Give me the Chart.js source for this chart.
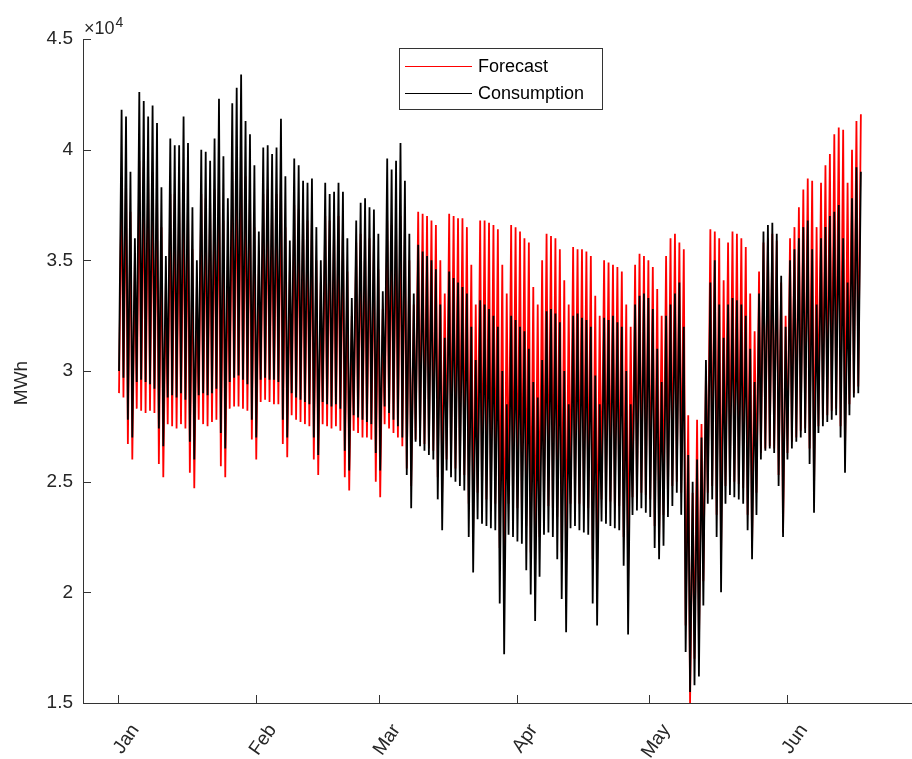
<!DOCTYPE html>
<html>
<head>
<meta charset="utf-8">
<script src="https://cdn.jsdelivr.net/npm/chart.js@4.4.1/dist/chart.umd.min.js"></script>
<style>
html,body{margin:0;padding:0;background:#ffffff;}
#wrap{width:912px;height:759px;position:relative;}
</style>
</head>
<body>
<div id="wrap"><canvas id="c" width="912" height="759"></canvas></div>
<script>
// ---- tick labels ----
const monthLabels = ['Jan', 'Feb', 'Mar', 'Apr', 'May', 'Jun'];
const monthStartDays = [0, 31, 59, 90, 120, 151];          // day index (day 0 = 1 Jan)
const yTickValues = [15000, 20000, 25000, 30000, 35000, 40000, 45000];
const seriesNames = ['Forecast', 'Consumption'];

// ---- daily values (MWh), one entry per day from 1 Jan ----
const consMax = [
  41800, 41500, 39000, 36000,
  42600, 42200, 41500, 42000, 41200, 38300, 35200,
  40500, 40200, 40200, 41500, 40300, 37400, 35000,
  40000, 39900, 39500, 40500, 42300, 39700, 37800,
  42100, 42800, 43400, 41300, 40700, 39300, 36300,
  40100, 40200, 39800, 40100, 41400, 38800, 35900,
  39600, 39300, 38600, 38500, 38700, 36500, 35000,
  38500, 38000, 38100, 38500, 38100, 36000, 33300,
  36800, 37600, 37800, 37400, 37300, 36200, 33600,
  39600, 39100, 39500, 40300, 38600, 36200, 33500,
  35700, 35400, 35200, 35000, 34600, 33000, 31500,
  34500, 34200, 34000, 33800, 33500, 32000, 30500,
  33200, 33000, 32800, 32500, 32000, 30000, 28500,
  32500, 32300, 32000, 31800, 31000, 29500, 28800,
  30500, 32700, 32800, 32600, 32200, 30000, 28500,
  32500, 32600, 32400, 32300, 32000, 29800, 28500,
  32400, 32300, 32500, 32200, 32000, 30000, 28500,
  33000, 33400, 33500, 33300, 32800, 31000, 29500,
  32500, 33000, 33500, 34000, 32000, 26200, 25000,
  26000, 27000, 30500, 34000, 35000, 33000, 31500,
  33000, 33300, 33200, 33000, 32500, 31000, 29500,
  33500, 36300, 36600, 36700, 36200, 34300, 32000,
  35000, 35500, 36000, 36500, 36800, 35500, 33000,
  36000, 36500, 37000, 37200, 37500, 36000, 34000,
  37800, 39200, 39000
];
const consMin = [
  30000, 29700, 27800, 27000,
  29500, 29600, 29500, 29400, 29200, 27400, 26600,
  28800, 28900, 28800, 29000, 28700, 26800, 26000,
  28900, 29000, 28900, 29000, 29200, 27200, 26500,
  29500, 29700, 29800, 29600, 29400, 27800, 27000,
  29600, 29700, 29600, 29600, 29500, 27800, 27000,
  29000, 28800, 28700, 28600, 28500, 27000, 26200,
  28600, 28500, 28400, 28500, 28300, 26400, 25500,
  28000, 27900, 27800, 27700, 27600, 26300, 25500,
  28400, 28100, 27800, 27500, 27000, 25300, 23800,
  26800, 26600, 26400, 26200, 26000, 24200, 22800,
  25500, 25200, 25000, 24800, 24600, 22500, 20900,
  23300, 23100, 23000, 22900, 22800, 19500, 17200,
  22600, 22500, 22300, 22200, 21000, 19900, 18700,
  20700, 22600, 22700, 22500, 21500, 19700, 18200,
  22900, 23000, 22800, 22700, 22600, 19500, 18500,
  23200, 23100, 23000, 22900, 22800, 21200, 18100,
  23500, 23700, 23800, 23600, 23400, 22000, 21500,
  22100, 23400, 23900, 24500, 23500, 17300, 15500,
  15800, 16200, 19400, 24000, 24200, 22500, 20000,
  24000, 24400, 24300, 24200, 24000, 22800, 21500,
  23500, 26000, 26400, 26500, 26300, 24800, 22500,
  26000, 26500, 26800, 27000, 27200, 25800, 23600,
  27200, 27500, 27700, 27800, 28000, 27000, 25400,
  28000, 28800, 29000
];
const foreMax = [
  38800, 39000, 37200, 35000,
  39500, 39200, 38800, 39000, 38300, 36500, 34000,
  38000, 38000, 37800, 38500, 37700, 35500, 33800,
  38000, 37800, 37600, 38200, 39000, 36800, 35200,
  39000, 39500, 40000, 38800, 38200, 36500, 34800,
  38000, 38200, 37800, 38000, 38800, 36500, 34500,
  37500, 37300, 37000, 36800, 37000, 35000, 34000,
  37000, 36800, 36800, 37000, 36600, 34500, 32500,
  35800, 36200, 36300, 36000, 35800, 34600, 32800,
  36800, 36600, 36800, 37000, 36500, 35000, 33000,
  37200, 37100, 37000, 36800, 36600, 35000, 33500,
  37100, 37000, 36900, 36900, 36500, 34800, 33000,
  36800, 36800, 36700, 36600, 36400, 34800, 33500,
  36600, 36500, 36300, 36000, 35800, 33800, 33000,
  35000, 36200, 36100, 36000, 35500, 34100, 33000,
  35600, 35500, 35500, 35400, 35200, 33400, 32500,
  35000, 34900, 34800, 34700, 34500, 33000, 32000,
  34800, 35300, 35200, 35000, 34700, 33700, 32500,
  35200, 36000, 36200, 35800, 35500, 28000, 24500,
  27800, 27600, 30000, 36400, 36300, 36000, 34100,
  35800, 36300, 36200, 36000, 35600, 33500, 31800,
  34500, 35800, 36000, 36200, 35900, 34000, 32500,
  36000, 36500, 37400, 38200, 38700, 38600, 36500,
  38500, 39300, 39800, 40700, 41000, 40900, 38500,
  40000, 41300, 41600
];
const foreMin = [
  29000, 28800, 26700, 26000,
  28300, 28200, 28100, 28200, 28100, 25800, 25200,
  27600, 27500, 27400, 27600, 27400, 25400, 24700,
  27800, 27600, 27500, 27700, 27800, 25700, 25200,
  28300, 28400, 28400, 28300, 28200, 26900, 26000,
  28600, 28700, 28600, 28500, 28500, 26700, 26100,
  28000, 27800, 27700, 27600, 27500, 26000, 25300,
  27600, 27500, 27400, 27500, 27300, 25200, 24600,
  27300, 27200, 27000, 27000, 26900, 25000, 24300,
  27600, 27400, 27200, 27000, 26600, 25600, 24800,
  26900, 26800, 26700, 26500, 26400, 25200, 24500,
  26000, 25800, 25600, 25500, 25300, 24000, 22800,
  24500, 24300, 24200, 24100, 24000, 22000, 20500,
  24000, 23900, 23800, 23700, 23000, 21800, 21200,
  22500, 23800, 23900, 23800, 23400, 21800, 20800,
  24000, 24100, 24000, 23900, 23800, 21500, 20800,
  24200, 24100, 24100, 24000, 23900, 22500, 20500,
  24300, 24500, 24500, 24400, 24200, 23000, 22300,
  23500, 24300, 24800, 25000, 24500, 18500, 15000,
  17000, 17500, 20500, 24500, 24800, 23500, 21500,
  24800, 25000, 25000, 24900, 24700, 23500, 22000,
  24500, 26300, 26500, 26600, 26500, 25300, 22700,
  26300, 26800, 27000, 27300, 27400, 26500, 24500,
  27500, 27800, 28000, 28200, 28300, 27500, 26200,
  28500, 29000, 29300
];

// hour of day of the nightly low and the evening high
const troughHour = 4;
const peakHour = 18;

function dailyCurve(mins, maxs) {
  const pts = [];
  for (let d = 0; d < mins.length; d++) {
    pts.push({ x: d + troughHour / 24, y: mins[d] });
    pts.push({ x: d + peakHour / 24, y: maxs[d] });
  }
  return pts;
}

const FONT = '"Liberation Sans", Arial, Helvetica, sans-serif';
const AXIS = '#333333';

const decorPlugin = {
  id: 'decor',
  afterDraw(chart) {
    const ctx = chart.ctx;
    const xs = chart.scales.x, ys = chart.scales.y;
    const area = chart.chartArea;
    ctx.save();
    // inside tick marks
    ctx.strokeStyle = AXIS;
    ctx.lineWidth = 1;
    ctx.beginPath();
    yTickValues.forEach(v => {
      const py = Math.round(ys.getPixelForValue(v)) + 0.5;
      ctx.moveTo(area.left, py); ctx.lineTo(area.left + 8, py);
    });
    monthStartDays.forEach(v => {
      const px = Math.round(xs.getPixelForValue(v)) + 0.5;
      ctx.moveTo(px, area.bottom); ctx.lineTo(px, area.bottom - 8);
    });
    ctx.stroke();

    // exponent label
    ctx.fillStyle = '#262626';
    ctx.textBaseline = 'alphabetic';
    ctx.textAlign = 'left';
    ctx.font = '18px ' + FONT;
    ctx.fillText('\u00d710', area.left + 1, 34);
    const w = ctx.measureText('\u00d710').width;
    ctx.font = '14px ' + FONT;
    ctx.fillText('4', area.left + 2 + w, 27);

    // y axis title
    ctx.save();
    ctx.translate(22, 383);
    ctx.rotate(-Math.PI / 2);
    ctx.textAlign = 'center';
    ctx.textBaseline = 'middle';
    ctx.font = '19px ' + FONT;
    ctx.fillText('MWh', 0, 0);
    ctx.restore();

    // legend box
    const bx = 399.5, by = 48.5, bw = 203, bh = 61;
    ctx.fillStyle = '#ffffff';
    ctx.fillRect(bx, by, bw, bh);
    ctx.strokeStyle = AXIS;
    ctx.lineWidth = 1;
    ctx.strokeRect(bx, by, bw, bh);
    const rowsY = [66, 93];
    chart.data.datasets.forEach((ds, i) => {
      const yy = rowsY[i];
      ctx.strokeStyle = ds.borderColor;
      ctx.lineWidth = 1.2;
      ctx.beginPath();
      ctx.moveTo(405, yy + 0.5); ctx.lineTo(472, yy + 0.5);
      ctx.stroke();
      ctx.fillStyle = '#000000';
      ctx.font = '18px ' + FONT;
      ctx.textAlign = 'left';
      ctx.textBaseline = 'middle';
      ctx.fillText(ds.label, 478, yy + 1);
    });
    ctx.restore();
  }
};

new Chart(document.getElementById('c'), {
  type: 'line',
  data: {
    datasets: [
      { label: seriesNames[0], data: dailyCurve(foreMin, foreMax), borderColor: '#ff0000',
        borderWidth: 1.8, pointRadius: 0, tension: 0, fill: false, order: 1 },
      { label: seriesNames[1], data: dailyCurve(consMin, consMax), borderColor: '#000000',
        borderWidth: 1.8, pointRadius: 0, tension: 0, fill: false, order: 0 }
    ]
  },
  options: {
    responsive: false,
    animation: false,
    devicePixelRatio: 1,
    layout: { padding: { top: 39, right: 0, left: 0, bottom: 0 } },
    plugins: { legend: { display: false }, tooltip: { enabled: false } },
    scales: {
      x: {
        type: 'linear',
        min: -7.97,
        max: 179.3,
        afterBuildTicks(scale) { scale.ticks = monthStartDays.map(v => ({ value: v })); },
        afterFit(scale) { scale.height = 56; scale.paddingLeft = 0; scale.paddingRight = 0; },
        grid: { display: false, drawTicks: false },
        border: { display: true, color: AXIS, width: 1 },
        ticks: {
          autoSkip: false,
          maxRotation: 55, minRotation: 55,
          labelOffset: 17,
          padding: 17,
          color: '#262626',
          font: { family: FONT, size: 19 },
          callback(v) { const i = monthStartDays.indexOf(v); return i >= 0 ? monthLabels[i] : ''; }
        }
      },
      y: {
        min: 15000,
        max: 45000,
        afterBuildTicks(scale) { scale.ticks = yTickValues.map(v => ({ value: v })); },
        afterFit(scale) { scale.width = 83; },
        grid: { display: false, drawTicks: false },
        border: { display: true, color: AXIS, width: 1 },
        ticks: {
          padding: 10,
          color: '#262626',
          font: { family: FONT, size: 19 },
          callback(v) { return String(v / 10000); }
        }
      }
    }
  },
  plugins: [decorPlugin]
});
</script>
</body>
</html>
